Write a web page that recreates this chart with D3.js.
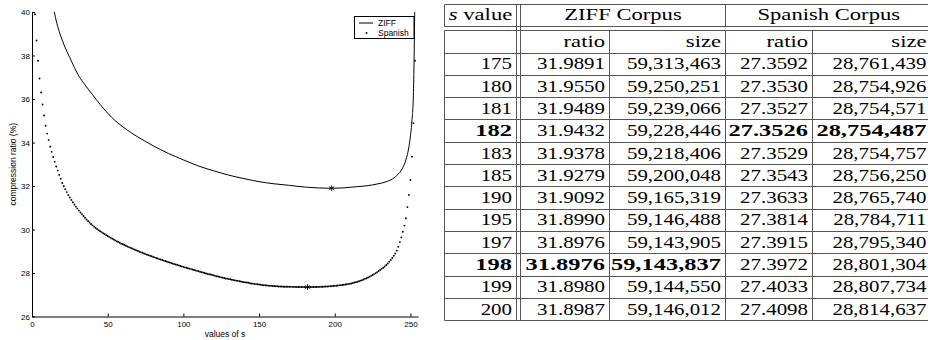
<!DOCTYPE html>
<html>
<head>
<meta charset="utf-8">
<script src="https://cdn.jsdelivr.net/npm/d3@7"></script>
<style>
  body { margin: 0; background: #fff; }
  svg { display: block; }
  .axis text { font-family: "Liberation Sans", Arial, sans-serif; font-size: 8px; fill: #000; }
  .axis path, .axis line { stroke: #000; }
  .lbl { font-family: "Liberation Sans", Arial, sans-serif; font-size: 8.5px; fill: #000; }
  .cell { font-family: "Liberation Serif", "Times New Roman", serif; font-size: 17px; fill: #000; }
  .grid line { stroke: #555; stroke-width: 1; }
</style>
</head>
<body>
<svg id="fig" width="928" height="340"></svg>
<script>
// ---- chart data ----
const xTicks = [0, 50, 100, 150, 200, 250];
const yTicks = [26, 28, 30, 32, 34, 36, 38, 40];

// Spanish corpus: one dot per s value, starting at s = 2
const spanishStart = 2;
const spanishRatio = [
  39.90, 38.69, 37.76, 36.94, 36.30, 35.75, 35.24, 34.77, 34.41, 34.11,
  33.81, 33.57, 33.33, 33.11, 32.90, 32.71, 32.51, 32.33, 32.14, 31.99,
  31.85, 31.72, 31.59, 31.47, 31.36, 31.25, 31.15, 31.05, 30.96, 30.87,
  30.78, 30.70, 30.62, 30.54, 30.46, 30.39, 30.32, 30.25, 30.19, 30.13,
  30.07, 30.02, 29.97, 29.92, 29.88, 29.83, 29.79, 29.74, 29.70, 29.66,
  29.62, 29.58, 29.54, 29.50, 29.46, 29.43, 29.39, 29.35, 29.32, 29.29,
  29.25, 29.22, 29.19, 29.16, 29.13, 29.10, 29.07, 29.04, 29.01, 28.98,
  28.95, 28.93, 28.90, 28.87, 28.84, 28.82, 28.79, 28.77, 28.74, 28.72,
  28.69, 28.67, 28.64, 28.62, 28.60, 28.57, 28.55, 28.53, 28.50, 28.48,
  28.46, 28.43, 28.41, 28.39, 28.37, 28.35, 28.32, 28.30, 28.28, 28.26,
  28.24, 28.22, 28.20, 28.18, 28.16, 28.14, 28.12, 28.10, 28.08, 28.06,
  28.04, 28.02, 28.00, 27.98, 27.96, 27.94, 27.93, 27.91, 27.89, 27.87,
  27.85, 27.84, 27.82, 27.80, 27.78, 27.77, 27.75, 27.74, 27.72, 27.71,
  27.69, 27.68, 27.66, 27.65, 27.64, 27.62, 27.61, 27.59, 27.58, 27.57,
  27.56, 27.55, 27.53, 27.52, 27.51, 27.50, 27.49, 27.48, 27.47, 27.46,
  27.45, 27.44, 27.44, 27.43, 27.42, 27.41, 27.41, 27.40, 27.40, 27.39,
  27.39, 27.38, 27.38, 27.38, 27.37, 27.37, 27.37, 27.37, 27.365, 27.364,
  27.363, 27.361, 27.360, 27.3592, 27.3578, 27.3565, 27.3552, 27.3540, 27.3530, 27.3527,
  27.3526, 27.3529, 27.3535, 27.3543, 27.3556, 27.3572, 27.3590, 27.3611, 27.3633, 27.3665,
  27.3698, 27.3735, 27.3774, 27.3814, 27.3863, 27.3915, 27.3972, 27.4033, 27.4098, 27.417,
  27.424, 27.432, 27.441, 27.450, 27.46, 27.47, 27.48, 27.49, 27.51, 27.52,
  27.54, 27.56, 27.58, 27.60, 27.62, 27.65, 27.67, 27.70, 27.73, 27.76,
  27.79, 27.83, 27.87, 27.91, 27.95, 27.99, 28.04, 28.09, 28.14, 28.19,
  28.24, 28.30, 28.37, 28.44, 28.52, 28.60, 28.69, 28.79, 28.90, 29.03,
  29.21, 29.42, 29.64, 29.90, 30.18, 30.52, 31.03, 31.59, 32.28, 33.35,
  34.89, 37.76
];

// ZIFF corpus: solid line
const ziffS = [14, 16, 18, 20, 22, 25, 28, 31, 35, 40, 45, 50, 55, 60, 65, 70, 75, 80, 85, 90,
  95, 100, 110, 120, 130, 140, 150, 160, 170, 175, 180, 181, 182, 183, 185, 190, 195, 197, 198, 199,
  200, 205, 210, 215, 220, 225, 230, 235, 238, 240, 242, 244, 245, 246, 247, 248, 249, 250, 251, 252, 253];
const ziffRatioCurve = [40.25, 39.6, 39.1, 38.7, 38.35, 37.9, 37.45, 37.05, 36.65, 36.2,
  35.75, 35.35, 35.0, 34.72, 34.47, 34.25, 34.05, 33.85, 33.67, 33.5,
  33.35, 33.2, 32.92, 32.7, 32.5, 32.34, 32.2, 32.1, 32.03, 31.9891,
  31.9550, 31.9489, 31.9432, 31.9378, 31.9279, 31.9092, 31.8990, 31.8976, 31.8976, 31.8980,
  31.8987, 31.91, 31.94, 31.97, 32.0, 32.05, 32.12, 32.22, 32.32, 32.42,
  32.55, 32.72, 32.85, 33.0, 33.2, 33.45, 33.8, 34.3, 35.0, 36.3, 41.0];

// ---- table data ----
const tableS = [175, 180, 181, 182, 183, 185, 190, 195, 197, 198, 199, 200];
const ziffRatio = [31.9891, 31.9550, 31.9489, 31.9432, 31.9378, 31.9279, 31.9092, 31.8990, 31.8976, 31.8976, 31.8980, 31.8987];
const ziffSize = [59313463, 59250251, 59239066, 59228446, 59218406, 59200048, 59165319, 59146488, 59143905, 59143837, 59144550, 59146012];
const spanishRatioT = [27.3592, 27.3530, 27.3527, 27.3526, 27.3529, 27.3543, 27.3633, 27.3814, 27.3915, 27.3972, 27.4033, 27.4098];
const spanishSize = [28761439, 28754926, 28754571, 28754487, 28754757, 28756250, 28765740, 28784711, 28795340, 28801304, 28807734, 28814637];
const bestSpanishS = 182;
const bestZiffS = 198;

const svg = d3.select('#fig');

class RatioChart {
  constructor(_config) {
    this.config = {
      parent: _config.parent,
      left: 32, right: 418, top: 12, bottom: 316.5
    };
    this.initVis();
  }

  initVis() {
    let vis = this;
    const c = vis.config;

    vis.xScale = d3.scaleLinear().domain([0, 255]).range([c.left, c.right]);
    vis.yScale = d3.scaleLinear().domain([26, 40]).range([c.bottom, c.top]);

    vis.xAxis = d3.axisBottom(vis.xScale)
      .tickValues(xTicks)
      .tickSize(-3)
      .tickSizeOuter(0)
      .tickPadding(5);

    vis.yAxis = d3.axisLeft(vis.yScale)
      .tickValues(yTicks)
      .tickSize(-3)
      .tickSizeOuter(0)
      .tickPadding(2);

    vis.g = c.parent.append('g');

    vis.g.append('clipPath').attr('id', 'plotClip')
      .append('rect')
      .attr('x', c.left - 2).attr('y', c.top)
      .attr('width', c.right - c.left + 6).attr('height', c.bottom - c.top);

    vis.marks = vis.g.append('g').attr('clip-path', 'url(#plotClip)');
  }

  renderVis() {
    let vis = this;
    const c = vis.config;

    const ziff = ziffS.map((s, i) => ({ s: s, v: ziffRatioCurve[i] }));
    const spanish = spanishRatio.map((v, i) => ({ s: spanishStart + i, v: v }));

    const line = d3.line()
      .curve(d3.curveMonotoneX)
      .x(d => vis.xScale(d.s))
      .y(d => vis.yScale(d.v));

    vis.marks.append('path')
      .datum(ziff)
      .attr('fill', 'none')
      .attr('stroke', '#000')
      .attr('stroke-width', 1)
      .attr('d', line);

    vis.marks.selectAll('.dot')
      .data(spanish)
      .join('circle')
      .attr('class', 'dot')
      .attr('cx', d => vis.xScale(d.s))
      .attr('cy', d => vis.yScale(d.v))
      .attr('r', 0.95)
      .attr('fill', '#000');

    // minimum markers
    const best = [
      { s: bestZiffS, v: ziffRatio[tableS.indexOf(bestZiffS)] },
      { s: bestSpanishS, v: spanishRatioT[tableS.indexOf(bestSpanishS)] }
    ];
    vis.marks.selectAll('.star')
      .data(best)
      .join('path')
      .attr('class', 'star')
      .attr('transform', d => `translate(${vis.xScale(d.s)},${vis.yScale(d.v)})`)
      .attr('d', d3.symbol(d3.symbolAsterisk, 22))
      .attr('fill', 'none')
      .attr('stroke', '#000')
      .attr('stroke-width', 0.9);

    vis.g.append('g')
      .attr('class', 'axis')
      .attr('transform', `translate(0,${c.bottom})`)
      .call(vis.xAxis);

    vis.g.append('g')
      .attr('class', 'axis')
      .attr('transform', `translate(${c.left},0)`)
      .call(vis.yAxis);

    vis.g.append('text')
      .attr('class', 'lbl')
      .attr('text-anchor', 'middle')
      .attr('x', (c.left + c.right) / 2)
      .attr('y', 337)
      .text('values of s');

    vis.g.append('text')
      .attr('class', 'lbl')
      .attr('text-anchor', 'middle')
      .attr('transform', `translate(16,${(c.top + c.bottom) / 2}) rotate(-90)`)
      .text('compression ratio (%)');

    // legend
    const lg = vis.g.append('g').attr('transform', 'translate(354.5,16.5)');
    lg.append('rect')
      .attr('width', 59.5).attr('height', 22)
      .attr('fill', '#fff').attr('stroke', '#000').attr('stroke-width', 1);
    lg.append('line')
      .attr('x1', 4.5).attr('x2', 18.5).attr('y1', 6.5).attr('y2', 6.5)
      .attr('stroke', '#000');
    lg.append('circle')
      .attr('cx', 12).attr('cy', 16.5).attr('r', 0.95).attr('fill', '#000');
    lg.append('text').attr('class', 'lbl').attr('x', 23.5).attr('y', 9.3).text('ZIFF');
    lg.append('text').attr('class', 'lbl').attr('x', 23.5).attr('y', 19.3).text('Spanish');
  }
}

const chart = new RatioChart({ parent: svg });
chart.renderVis();

// ---- table ----
function drawTable() {
  const fmtRatio = d3.format('.4f');
  const fmtSize = d3.format(',');
  const numScale = 1.23, boldScale = 1.44, headScale = 1.33;

  const xL = 444.5, xS1 = 516.5, xS2 = 520.5, xZ = 609.5, xMid = 725.5, xSp = 812.5, xR = 932;
  const rowH = 22.3;
  const yTop = 3.5, yH = 25.5, yH2 = 29.5, yR = 52.5;
  const rowLines = d3.range(tableS.length + 1).map(i => yR + i * rowH);
  const yBot = rowLines[rowLines.length - 1];

  const g = svg.append('g');
  const grid = g.append('g').attr('class', 'grid');

  const hLines = [yTop, yH, yH2].concat(rowLines);
  grid.selectAll('.h')
    .data(hLines)
    .join('line')
    .attr('x1', xL).attr('x2', 928)
    .attr('y1', d => Math.round(d) + 0.5).attr('y2', d => Math.round(d) + 0.5);

  const vLines = [
    [xL, yTop, yH], [xL, yH2, yBot],
    [xS1, yTop, yBot], [xS2, yTop, yBot],
    [xMid, yTop, yH], [xMid, yH2, yBot],
    [xZ, yH2, yBot], [xSp, yH2, yBot]
  ];
  grid.selectAll('.v')
    .data(vLines)
    .join('line')
    .attr('x1', d => d[0]).attr('x2', d => d[0])
    .attr('y1', d => Math.round(d[1]) + 0.5).attr('y2', d => Math.round(d[2]) + 0.5);

  function cell(x, yc, str, anchor, k, bold) {
    const t = g.append('text')
      .attr('class', 'cell')
      .attr('text-anchor', anchor)
      .attr('font-weight', bold ? 'bold' : null)
      .attr('transform', `translate(${x},${yc + 5.7}) scale(${k},1)`);
    if (typeof str === 'string') t.text(str);
    return t;
  }

  // header row
  const yc0 = (yTop + yH) / 2;
  const sh = cell((xL + xS1) / 2, yc0, null, 'middle', headScale, false);
  sh.append('tspan').attr('font-style', 'italic').text('s');
  sh.append('tspan').text(' value');
  cell((xS2 + xMid) / 2, yc0, 'ZIFF Corpus', 'middle', headScale, false);
  cell((xMid + xR) / 2, yc0, 'Spanish Corpus', 'middle', headScale, false);

  // sub header
  const yc1 = (yH2 + yR) / 2;
  const pad = 4.5;
  cell(xZ - pad, yc1, 'ratio', 'end', headScale, false);
  cell(xMid - pad, yc1, 'size', 'end', headScale, false);
  cell(xSp - pad, yc1, 'ratio', 'end', headScale, false);
  cell(928 - 1.5, yc1, 'size', 'end', headScale, false);

  tableS.forEach((s, i) => {
    const yc = yR + (i + 0.5) * rowH;
    const bz = s === bestZiffS, bs = s === bestSpanishS;
    const bRow = bz || bs;
    cell(xS1 - pad, yc, String(s), 'end', bRow ? boldScale : numScale, bRow);
    cell(xZ - pad, yc, fmtRatio(ziffRatio[i]), 'end', bz ? boldScale : numScale, bz);
    cell(xMid - pad, yc, fmtSize(ziffSize[i]), 'end', bz ? boldScale : numScale, bz);
    cell(xSp - pad, yc, fmtRatio(spanishRatioT[i]), 'end', bs ? boldScale : numScale, bs);
    cell(928 - 1.5, yc, fmtSize(spanishSize[i]), 'end', bs ? boldScale : numScale, bs);
  });
}

drawTable();
</script>
</body>
</html>
